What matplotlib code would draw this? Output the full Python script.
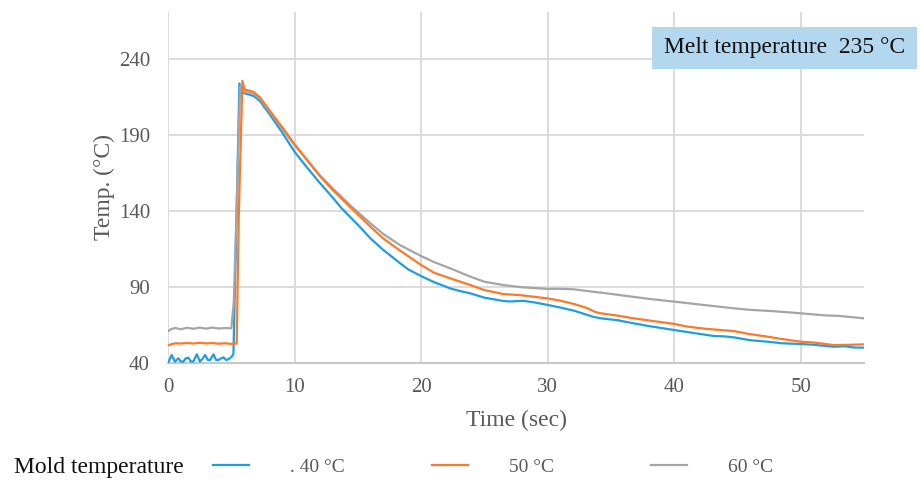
import matplotlib
matplotlib.use("Agg")
import matplotlib.pyplot as plt
from matplotlib.patches import Rectangle

# Cavity temperature traces (time in s, temperature in °C)
t_40 = [0.0, 0.29, 0.55, 0.82, 1.0, 1.21, 1.4, 1.61, 1.8, 2.0, 2.27, 2.53, 2.75, 2.93, 3.15,
        3.32, 3.59, 3.8, 3.98, 4.2, 4.38, 4.6, 4.77, 5.04, 5.17, 5.4, 5.64, 5.8, 6.1, 6.8,
        7.3, 8.0, 9.0, 10.0, 11.0, 12.0, 13.0, 13.7, 15.0, 16.0, 17.0, 18.35, 19.0, 20.0,
        21.0, 22.3, 23.0, 23.9, 25.0, 26.5, 27.0, 28.1, 29.0, 30.0, 31.0, 32.1, 33.0, 33.6,
        34.2, 35.5, 36.8, 38.0, 39.0, 40.0, 41.5, 43.1, 44.0, 44.7, 46.0, 47.4, 48.5, 50.0,
        51.0, 52.6, 53.5, 54.2, 55.0]
temp_40 = [40.0, 45.3, 40.9, 43.1, 41.0, 40.9, 43.0, 43.5, 41.0, 40.9, 45.7, 40.9, 43.0, 45.3, 42.0,
           42.0, 45.7, 42.0, 42.0, 43.0, 43.7, 42.0, 42.4, 44.2, 46.0, 130.0, 224.0, 218.0, 217.4, 215.6,
           212.0, 204.0, 192.0, 179.0, 168.5, 158.5, 149.0, 142.0, 131.0, 122.0, 114.5, 105.6, 101.5, 97.2,
           93.3, 89.1, 87.5, 85.8, 83.0, 80.8, 80.5, 80.9, 79.8, 78.2, 76.5, 74.4, 72.0, 70.4,
           69.4, 68.2, 66.1, 64.3, 63.0, 61.7, 59.8, 57.8, 57.5, 56.9, 55.0, 54.0, 53.0, 52.5,
           52.0, 50.7, 51.0, 50.2, 50.1]

t_50 = [0.0, 0.3, 0.6, 1.0, 1.5, 2.0, 2.5, 3.0, 3.5, 4.0, 4.5, 5.0, 5.43, 5.6, 5.88, 6.04,
        6.75, 7.3, 8.0, 9.0, 10.0, 11.0, 12.0, 13.0, 14.5, 16.0, 17.0, 18.35, 20.0, 21.0, 22.3,
        23.9, 25.0, 26.5, 28.0, 30.0, 31.0, 32.1, 33.0, 33.8, 34.2, 35.5, 36.8, 38.0, 40.0, 41.0,
        42.5, 44.7, 46.0, 47.4, 48.5, 50.0, 51.0, 52.6, 54.0, 55.0]
temp_50 = [51.6, 52.5, 53.0, 52.8, 53.2, 52.8, 53.3, 52.9, 53.1, 52.7, 53.0, 52.6, 52.8, 140.0, 225.7, 220.0,
           218.5, 214.5, 206.5, 195.5, 184.0, 173.5, 163.0, 154.0, 141.8, 129.7, 122.0, 113.9, 104.5, 99.5, 95.7,
           91.3, 88.0, 85.4, 84.5, 82.5, 81.0, 78.8, 76.5, 73.5, 72.7, 71.2, 69.4, 68.0, 65.7, 64.0,
           62.5, 61.0, 59.0, 57.3, 55.8, 54.0, 53.5, 51.8, 52.0, 52.3]

t_60 = [0.0, 0.3, 0.6, 1.0, 1.5, 2.0, 2.5, 3.0, 3.5, 4.0, 4.5, 5.0, 5.2, 5.7, 6.0, 6.8,
        7.3, 8.0, 9.0, 10.0, 11.0, 12.0, 13.0, 14.5, 16.0, 17.0, 18.35, 20.0, 21.0, 22.3, 23.9,
        25.0, 26.5, 28.0, 30.0, 31.0, 32.1, 33.0, 34.7, 36.8, 38.0, 40.0, 42.0, 44.7, 46.0,
        48.0, 50.0, 52.0, 53.0, 55.0]
temp_60 = [61.0, 62.5, 63.0, 62.2, 63.2, 62.5, 63.3, 62.6, 63.3, 62.7, 63.0, 62.8, 80.0, 222.0, 218.5, 217.0,
           213.5, 205.5, 194.5, 183.4, 173.5, 163.5, 155.0, 143.0, 131.9, 125.0, 117.5, 110.4, 106.5, 102.3, 96.8,
           93.5, 91.3, 89.8, 88.8, 88.8, 88.5, 87.5, 85.8, 83.5, 82.2, 80.4, 78.5, 76.0, 75.0,
           74.0, 72.7, 71.3, 71.0, 69.4]

series_labels = [". 40 °C", "50 °C", "60 °C"]
x_ticks = [0, 10, 20, 30, 40, 50]
y_ticks = [40, 90, 140, 190, 240]

SERIF = ["Liberation Serif", "DejaVu Serif"]
TXT = "#595959"
W, H = 921, 484

fig = plt.figure(figsize=(W / 100, H / 100), dpi=100)
ax = fig.add_axes([168 / W, 1 - 363 / H, (864 - 168) / W, (363 - 12) / H])

h40, = ax.plot(t_40, temp_40, color="#1f9de3", lw=1.6, zorder=3)
h60, = ax.plot(t_60, temp_60, color="#a5a5a5", lw=1.6, zorder=3)
h50, = ax.plot(t_50, temp_50, color="#fb7a28", lw=1.6, zorder=3)

ax.set_xlim(0, 55)
ax.set_ylim(40, 271)
ax.set_xticks(x_ticks)
ax.set_yticks(y_ticks)
ax.set_xticklabels([str(v) for v in x_ticks], fontfamily=SERIF, fontsize=15, color=TXT)
ax.set_yticklabels([str(v) for v in y_ticks], fontfamily=SERIF, fontsize=15, color=TXT)
ax.tick_params(length=0)
ax.tick_params(axis="x", pad=11)
ax.tick_params(axis="y", pad=13)
ax.grid(True, color="#d9d9d9", lw=1.3)
ax.set_axisbelow(True)
for s in ["top", "right", "left"]:
    ax.spines[s].set_visible(False)
ax.spines["bottom"].set_color("#c8c8c8")
ax.spines["bottom"].set_linewidth(1.5)

ax.set_xlabel("Time (sec)", fontfamily=SERIF, fontsize=17, color=TXT, labelpad=9)
fig.text(104 / W, 1 - 187 / H, "Temp. (°C)", rotation=90, ha="center", va="center",
         fontfamily=SERIF, fontsize=17, color=TXT)

# Process condition tag
fig.patches.append(Rectangle((652 / W, 1 - 69 / H), 265 / W, 42 / H,
                             transform=fig.transFigure, facecolor="#b3d7ee", edgecolor="none"))
fig.text(784.5 / W, 1 - 48 / H, "Melt temperature  235 °C", ha="center", va="center",
         fontfamily=SERIF, fontsize=17, color="#111111")

# Legend row: title plus one entry per mould temperature
fig.text(14 / W, 1 - 467 / H, "Mold temperature", ha="left", va="center",
         fontfamily=SERIF, fontsize=17, color="#111111")
entry_x = [213, 432, 651]
for handle, label, x0 in zip([h40, h50, h60], series_labels, entry_x):
    leg = fig.legend(handles=[handle], labels=[label], loc="center left",
                     bbox_to_anchor=(x0 / W, 1 - 467 / H), frameon=False,
                     prop={"family": SERIF, "size": 14}, handlelength=1.85,
                     handletextpad=2.1, borderaxespad=0, borderpad=0)
    leg.get_texts()[0].set_color(TXT)

fig.savefig("out.png", dpi=100)
